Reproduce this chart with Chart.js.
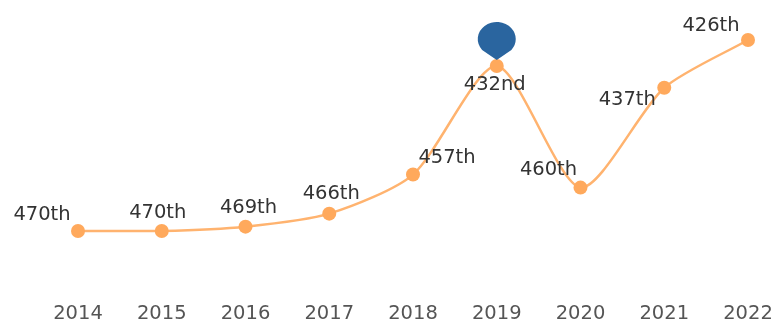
<!DOCTYPE html>
<html>
<head>
<meta charset="utf-8">
<script src="https://cdn.jsdelivr.net/npm/chart.js@4"></script>
<style>
  html, body { margin: 0; padding: 0; background: #fff; }
  #box { width: 776px; height: 321px; }
</style>
</head>
<body>
<div id="box"><canvas id="graphic"></canvas></div>
<script>
const years = ["2014", "2015", "2016", "2017", "2018", "2019", "2020", "2021", "2022"];
const ranks = [470, 470, 469, 466, 457, 432, 460, 437, 426];
const rankLabels = ["470th", "470th", "469th", "466th", "457th", "432nd", "460th", "437th", "426th"];
const pinnedYear = "2019";

const fontName = '"DejaVu Sans", sans-serif';

// where each label sits relative to its point
const labelOffsets = [[-36, -17], [-4, -19], [3, -20], [2, -21], [34, -18], [-2, 18], [-32, -19], [-37, 11], [-37, -15]];

const rankLabelPlugin = {
    id: "rankLabels",
    afterDatasetsDraw(chart) {
        const ctx = chart.ctx;
        const points = chart.getDatasetMeta(0).data;
        ctx.save();
        ctx.font = "19.5px " + fontName;
        ctx.fillStyle = "#333";
        ctx.textAlign = "center";
        ctx.textBaseline = "middle";
        points.forEach((p, i) => {
            ctx.fillText(rankLabels[i], p.x + labelOffsets[i][0], p.y + labelOffsets[i][1] + 1);
        });
        ctx.restore();
    }
};

//Map pin over the best year
const pinPlugin = {
    id: "pin",
    afterDatasetsDraw(chart) {
        const ctx = chart.ctx;
        const p = chart.getDatasetMeta(0).data[years.indexOf(pinnedYear)];
        const rx = 19;
        const ry = 17;
        const cy = p.y - 27;
        const a = Math.PI * 0.22;
        ctx.save();
        ctx.fillStyle = "#2a659f";
        ctx.beginPath();
        ctx.ellipse(p.x, cy, rx, ry, 0, Math.PI - a, a);
        ctx.lineTo(p.x, p.y - 6);
        ctx.closePath();
        ctx.fill();
        ctx.restore();
    }
};

new Chart(document.getElementById("graphic"), {
    type: "line",
    data: {
        labels: years,
        datasets: [{
            data: ranks,
            borderColor: "#ffb36f",
            backgroundColor: "#ffa95c",
            borderWidth: 2.5,
            pointRadius: 7,
            pointBorderWidth: 0,
            clip: false,
            tension: 0.25
        }]
    },
    options: {
        responsive: true,
        maintainAspectRatio: false,
        animation: false,
        layout: { padding: { left: 78, right: 28, top: 40, bottom: 0 } },
        plugins: { legend: { display: false }, tooltip: { enabled: false } },
        scales: {
            x: {
                offset: false,
                grid: { display: false },
                border: { display: false },
                afterFit(scale) {
                    scale.paddingLeft = 0;
                    scale.paddingRight = 0;
                    scale.height = 90;
                },
                ticks: {
                    color: "#555",
                    font: { size: 19.5, family: fontName },
                    maxRotation: 0,
                    autoSkip: false,
                    padding: 63
                }
            },
            y: {
                display: false,
                reverse: true,
                min: 426,
                max: 470
            }
        }
    },
    plugins: [pinPlugin, rankLabelPlugin]
});
</script>
</body>
</html>
